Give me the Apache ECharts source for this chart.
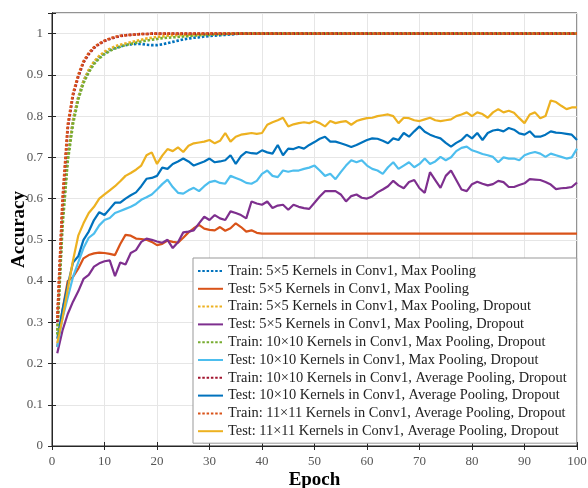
<!DOCTYPE html>
<html><head><meta charset="utf-8">
<script src="https://cdn.jsdelivr.net/npm/echarts@6/dist/echarts.min.js"></script>
<style>html,body{margin:0;padding:0;background:#fff}#c{width:588px;height:488px}</style>
</head><body><div id="c"></div>
<script>
const xTicks = [0,10,20,30,40,50,60,70,80,90,100];
const yTicks = [0,0.1,0.2,0.3,0.4,0.5,0.6,0.7,0.8,0.9,1];
const seriesNames = [
  'Train: 5\u00d75 Kernels in Conv1, Max Pooling',
  'Test: 5\u00d75 Kernels in Conv1, Max Pooling',
  'Train: 5\u00d75 Kernels in Conv1, Max Pooling, Dropout',
  'Test: 5\u00d75 Kernels in Conv1, Max Pooling, Dropout',
  'Train: 10\u00d710 Kernels in Conv1, Max Pooling, Dropout',
  'Test: 10\u00d710 Kernels in Conv1, Max Pooling, Dropout',
  'Train: 10\u00d710 Kernels in Conv1, Average Pooling, Dropout',
  'Test: 10\u00d710 Kernels in Conv1, Average Pooling, Dropout',
  'Train: 11\u00d711 Kernels in Conv1, Average Pooling, Dropout',
  'Test: 11\u00d711 Kernels in Conv1, Average Pooling, Dropout'
];
const colors = ['#0072BD','#D95319','#EDB120','#7E2F8E','#77AC30','#4DBEEE','#A2142F','#0072BD','#D95319','#EDB120'];

const train5Max = [0.28,0.55,0.70,0.79,0.845,0.885,0.91,0.93,0.943,0.953,
 0.96,0.965,0.969,0.972,0.974,0.975,0.975,0.973,0.972,0.972,
 0.974,0.977,0.98,0.983,0.986,0.988,0.99,0.991,0.993,0.994,
 0.995,0.996,0.997,0.998,0.999,1,1,1,1,1,
 1,1,1,1,1,1,1,1,1,1, 1,1,1,1,1,1,1,1,1,1, 1,1,1,1,1,1,1,1,1,1,
 1,1,1,1,1,1,1,1,1,1, 1,1,1,1,1,1,1,1,1,1, 1,1,1,1,1,1,1,1,1,1];
const test5Max = [0.24,0.33,0.40,0.41,0.43,0.455,0.463,0.467,0.469,0.468,
 0.466,0.463,0.49,0.512,0.51,0.503,0.502,0.5,0.495,0.487,
 0.49,0.498,0.495,0.493,0.505,0.518,0.528,0.536,0.527,0.524,
 0.523,0.531,0.522,0.528,0.54,0.531,0.52,0.523,0.517,0.515,
 0.515,0.515,0.515,0.515,0.515,0.515,0.515,0.515,0.515,0.515,
 0.515,0.515,0.515,0.515,0.515,0.515,0.515,0.515,0.515,0.515,
 0.515,0.515,0.515,0.515,0.515,0.515,0.515,0.515,0.515,0.515,
 0.515,0.515,0.515,0.515,0.515,0.515,0.515,0.515,0.515,0.515,
 0.515,0.515,0.515,0.515,0.515,0.515,0.515,0.515,0.515,0.515,
 0.515,0.515,0.515,0.515,0.515,0.515,0.515,0.515,0.515,0.515];
const train5MaxDrop = [0.28,0.55,0.70,0.79,0.845,0.885,0.912,0.932,0.946,0.956,
 0.963,0.969,0.973,0.976,0.979,0.982,0.985,0.988,0.99,0.992,
 0.993,0.995,0.996,0.996,0.997,0.997,0.998,0.998,0.999,0.999,
 1,1,1,1,1,1,1,1,1,1,
 1,1,1,1,1,1,1,1,1,1, 1,1,1,1,1,1,1,1,1,1, 1,1,1,1,1,1,1,1,1,1,
 1,1,1,1,1,1,1,1,1,1, 1,1,1,1,1,1,1,1,1,1, 1,1,1,1,1,1,1,1,1,1];
const test5MaxDrop = [0.225,0.28,0.32,0.35,0.375,0.405,0.415,0.435,0.443,0.448,
 0.45,0.412,0.445,0.44,0.468,0.475,0.495,0.503,0.5,0.496,
 0.493,0.5,0.48,0.494,0.518,0.52,0.523,0.54,0.556,0.548,
 0.56,0.552,0.548,0.569,0.565,0.56,0.552,0.593,0.588,0.585,
 0.593,0.577,0.583,0.585,0.573,0.585,0.58,0.577,0.575,0.59,
 0.605,0.618,0.618,0.618,0.61,0.593,0.606,0.61,0.602,0.6,
 0.605,0.615,0.622,0.63,0.643,0.632,0.625,0.64,0.645,0.625,
 0.614,0.664,0.645,0.626,0.655,0.668,0.645,0.622,0.618,0.635,
 0.641,0.636,0.632,0.635,0.643,0.64,0.628,0.628,0.633,0.637,
 0.647,0.646,0.645,0.64,0.634,0.623,0.625,0.626,0.628,0.639];
const train10MaxDrop = [0.27,0.53,0.69,0.78,0.84,0.88,0.906,0.926,0.94,0.95,
 0.958,0.964,0.968,0.972,0.975,0.978,0.981,0.983,0.985,0.987,
 0.989,0.99,0.991,0.992,0.993,0.994,0.995,0.996,0.997,0.997,
 0.998,0.998,0.999,0.999,1,1,1,1,1,1,
 1,1,1,1,1,1,1,1,1,1, 1,1,1,1,1,1,1,1,1,1, 1,1,1,1,1,1,1,1,1,1,
 1,1,1,1,1,1,1,1,1,1, 1,1,1,1,1,1,1,1,1,1, 1,1,1,1,1,1,1,1,1,1];
const test10MaxDrop = [0.24,0.31,0.36,0.41,0.445,0.48,0.505,0.515,0.535,0.548,
 0.553,0.565,0.57,0.575,0.58,0.587,0.597,0.603,0.61,0.622,
 0.635,0.646,0.628,0.614,0.612,0.62,0.626,0.618,0.63,0.64,
 0.643,0.638,0.636,0.655,0.65,0.645,0.638,0.636,0.643,0.66,
 0.668,0.655,0.652,0.668,0.665,0.668,0.668,0.672,0.675,0.68,
 0.668,0.655,0.66,0.647,0.664,0.68,0.693,0.688,0.693,0.68,
 0.672,0.668,0.66,0.676,0.688,0.672,0.68,0.688,0.676,0.684,
 0.697,0.684,0.69,0.701,0.693,0.7,0.715,0.723,0.726,0.717,
 0.713,0.708,0.705,0.701,0.688,0.7,0.697,0.697,0.693,0.705,
 0.71,0.713,0.709,0.701,0.709,0.705,0.701,0.697,0.7,0.721];
const train10AvgDrop = [0.30,0.59,0.77,0.85,0.895,0.93,0.95,0.965,0.975,0.982,
 0.987,0.991,0.994,0.996,0.997,0.998,0.999,0.999,1,1,
 1,1,1,1,1,1,1,1,1,1, 1,1,1,1,1,1,1,1,1,1,
 1,1,1,1,1,1,1,1,1,1, 1,1,1,1,1,1,1,1,1,1, 1,1,1,1,1,1,1,1,1,1,
 1,1,1,1,1,1,1,1,1,1, 1,1,1,1,1,1,1,1,1,1, 1,1,1,1,1,1,1,1,1,1];
const test10AvgDrop = [0.26,0.33,0.39,0.445,0.46,0.50,0.52,0.548,0.567,0.56,
 0.575,0.59,0.59,0.6,0.608,0.615,0.63,0.648,0.65,0.655,
 0.675,0.672,0.684,0.69,0.697,0.69,0.68,0.685,0.69,0.697,
 0.688,0.69,0.693,0.705,0.684,0.703,0.713,0.71,0.709,0.717,
 0.712,0.709,0.73,0.705,0.721,0.72,0.725,0.721,0.73,0.737,
 0.745,0.75,0.738,0.738,0.734,0.73,0.725,0.73,0.736,0.742,
 0.746,0.745,0.74,0.734,0.746,0.742,0.759,0.75,0.763,0.775,
 0.762,0.755,0.75,0.746,0.735,0.726,0.735,0.742,0.755,0.746,
 0.759,0.742,0.759,0.765,0.767,0.763,0.771,0.767,0.758,0.755,
 0.763,0.75,0.75,0.755,0.763,0.76,0.759,0.757,0.755,0.742];
const train11AvgDrop = [0.31,0.60,0.78,0.855,0.9,0.933,0.953,0.967,0.976,0.983,
 0.988,0.992,0.995,0.996,0.997,0.998,0.999,0.999,1,1,
 1,1,1,1,1,1,1,1,1,1, 1,1,1,1,1,1,1,1,1,1,
 1,1,1,1,1,1,1,1,1,1, 1,1,1,1,1,1,1,1,1,1, 1,1,1,1,1,1,1,1,1,1,
 1,1,1,1,1,1,1,1,1,1, 1,1,1,1,1,1,1,1,1,1, 1,1,1,1,1,1,1,1,1,1];
const test11AvgDrop = [0.25,0.31,0.38,0.45,0.51,0.54,0.565,0.58,0.6,0.61,
 0.62,0.63,0.642,0.655,0.662,0.67,0.68,0.705,0.712,0.684,
 0.704,0.72,0.715,0.724,0.713,0.728,0.734,0.736,0.738,0.742,
 0.734,0.74,0.759,0.738,0.75,0.755,0.757,0.759,0.757,0.759,
 0.779,0.785,0.79,0.796,0.775,0.78,0.783,0.785,0.783,0.788,
 0.783,0.775,0.788,0.783,0.786,0.788,0.779,0.788,0.792,0.795,
 0.796,0.8,0.802,0.804,0.8,0.783,0.796,0.795,0.79,0.788,
 0.792,0.796,0.79,0.788,0.79,0.792,0.8,0.804,0.809,0.8,
 0.809,0.805,0.796,0.809,0.817,0.809,0.813,0.808,0.795,0.783,
 0.804,0.809,0.795,0.8,0.838,0.834,0.825,0.817,0.821,0.821];

const allValues = [train5Max,test5Max,train5MaxDrop,test5MaxDrop,train10MaxDrop,test10MaxDrop,train10AvgDrop,test10AvgDrop,train11AvgDrop,test11AvgDrop];

const FONT = 'Liberation Serif';
const series = allValues.map((vals, i) => {
  const isTrain = i % 2 === 0;
  return {
    name: seriesNames[i],
    type: 'line',
    symbol: 'none',
    data: vals.map((v, k) => [k + 1, v]),
    lineStyle: {color: colors[i], width: isTrain ? 2.6 : 2.2, type: isTrain ? [2.5, 1.8] : 'solid'},
    itemStyle: {color: colors[i]},
    z: isTrain ? 3 : 2
  };
});

const chart = echarts.init(document.getElementById('c'), null, {renderer: 'canvas'});
chart.setOption({
  animation: false,
  backgroundColor: '#fff',
  grid: {left: 52, right: 11, top: 13, bottom: 42, show: true, borderColor: '#262626', borderWidth: 1,
         containLabel: false, outerBoundsMode: 'none'},
  xAxis: [{
    type: 'value', min: xTicks[0], max: xTicks[xTicks.length - 1], interval: 10,
    name: 'Epoch', nameLocation: 'middle', nameGap: 25, nameMoveOverlap: false,
    nameTextStyle: {fontFamily: FONT, fontWeight: 'bold', fontSize: 19, color: '#000'},
    axisLine: {show: true, lineStyle: {color: '#262626', width: 1}},
    axisTick: {show: true, inside: true, length: 4, lineStyle: {color: '#262626'}},
    axisLabel: {fontFamily: FONT, fontSize: 13, color: '#555', margin: 9},
    splitLine: {show: true, lineStyle: {color: '#e6e6e6', width: 1}}
  }, {
    type: 'value', position: 'top', min: 0, max: 100, interval: 10,
    axisLine: {show: true, lineStyle: {color: '#262626'}},
    axisTick: {show: true, inside: true, length: 4, lineStyle: {color: '#262626'}},
    axisLabel: {show: false}, splitLine: {show: false}
  }],
  yAxis: [{
    type: 'value', min: 0, max: 1.05, interval: 0.1,
    name: 'Accuracy', nameLocation: 'middle', nameGap: 23, nameMoveOverlap: false,
    nameTextStyle: {fontFamily: FONT, fontWeight: 'bold', fontSize: 19, color: '#000'},
    axisLine: {show: true, lineStyle: {color: '#262626', width: 1}},
    axisTick: {show: true, inside: true, length: 4, lineStyle: {color: '#262626'}},
    axisLabel: {fontFamily: FONT, fontSize: 13, color: '#555', margin: 9,
      formatter: v => (yTicks.some(t => Math.abs(t - v) < 1e-6) ? String(Math.round(v * 10) / 10) : '')},
    splitLine: {show: true, lineStyle: {color: '#e6e6e6', width: 1}}
  }, {
    type: 'value', position: 'right', min: 0, max: 1.05, interval: 0.1,
    axisLine: {show: true, lineStyle: {color: '#262626'}},
    axisTick: {show: true, inside: true, length: 4, lineStyle: {color: '#262626'}},
    axisLabel: {show: false}, splitLine: {show: false}
  }],
  legend: {
    orient: 'vertical', left: 193, top: 258,
    itemWidth: 25, itemHeight: 14, itemGap: 3.8,
    padding: [6, 10, 5, 4],
    backgroundColor: '#fff', borderColor: '#999', borderWidth: 1,
    itemStyle: {opacity: 0},
    textStyle: {fontFamily: FONT, fontSize: 14.4, color: '#222', lineHeight: 14},
    data: seriesNames
  },
  series: series
});
</script></body></html>
